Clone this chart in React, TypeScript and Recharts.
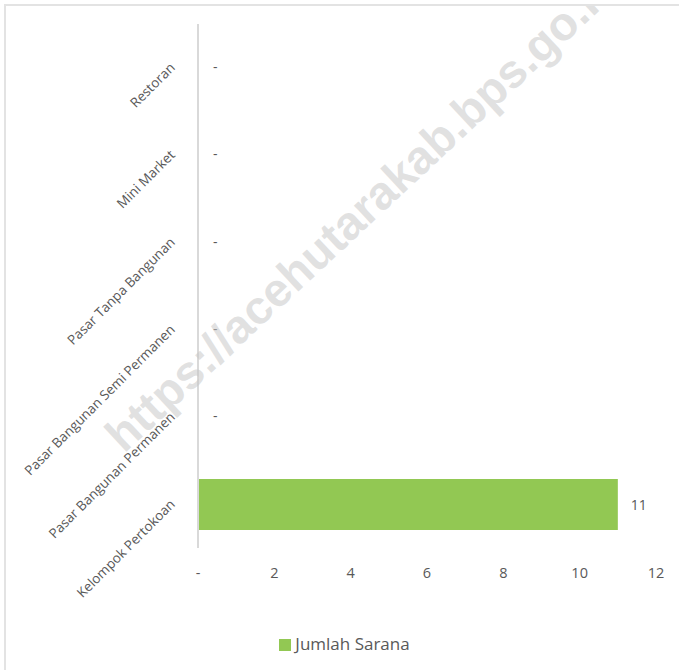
import { Bar, BarChart, LabelList, Legend, XAxis, YAxis } from "recharts";

const categories = [
  "Restoran",
  "Mini Market",
  "Pasar Tanpa Bangunan",
  "Pasar Bangunan Semi Permanen",
  "Pasar Bangunan Permanen",
  "Kelompok Pertokoan",
];
const jumlahSarana = [0, 0, 0, 0, 0, 11];
const xTicks = [0, 2, 4, 6, 8, 10, 12];

const data = categories.map((name, i) => ({ name, value: jumlahSarana[i] }));

const FONT = "'Open Sans', sans-serif";
const TEXT = "#595959";

const dash = (v: any) => (Number(v) === 0 ? "-" : String(v));

function CategoryTick({ x, y, payload }: any) {
  const ax = x - 17;
  const ay = y - 2;
  return (
    <text
      x={ax}
      y={ay}
      dy={4}
      textAnchor="end"
      fill={TEXT}
      fontSize={13.5}
      fontFamily={FONT}
      transform={`rotate(-45, ${ax}, ${ay})`}
    >
      {payload.value}
    </text>
  );
}

function ValueLabel({ x, y, width, height, value }: any) {
  const zero = Number(value) === 0;
  return (
    <text
      x={Number(x) + Number(width) + (zero ? 15 : 13)}
      y={Number(y) + Number(height) / 2}
      dy={zero ? 4 : 5}
      textAnchor="start"
      fill={TEXT}
      fontSize={14}
      fontFamily={FONT}
    >
      {dash(value)}
    </text>
  );
}

export default function App() {
  return (
    <div style={{ position: "absolute", left: 0, top: 0, width: 679, height: 670, overflow: "hidden", background: "#fff" }}>
      <div
        style={{
          position: "absolute",
          left: 4,
          top: 4,
          width: 720,
          height: 720,
          border: "2px solid #e3e3e3",
        }}
      />
      <BarChart
        width={679}
        height={670}
        data={data}
        layout="vertical"
        margin={{ top: 24, right: 23, left: 0, bottom: 15 }}
        barCategoryGap="21%"
        style={{ position: "absolute", left: 0, top: 0, fontFamily: FONT }}
      >
        <XAxis
          type="number"
          domain={[0, 12]}
          ticks={xTicks}
          tickFormatter={dash}
          axisLine={false}
          tickLine={false}
          tickMargin={14}
          height={84}
          tick={{ fill: TEXT, fontSize: 14.5, fontFamily: FONT }}
        />
        <YAxis
          type="category"
          dataKey="name"
          width={198}
          axisLine={{ stroke: "#d9d9d9", strokeWidth: 2 }}
          tickLine={false}
          tick={<CategoryTick />}
          interval={0}
        />
        <Legend
          verticalAlign="bottom"
          iconType="square"
          iconSize={12}
          wrapperStyle={{ left: 20, width: 659, fontSize: 17, fontFamily: FONT, color: TEXT }}
          formatter={(v: any) => <span style={{ color: TEXT }}>{v}</span>}
        />
        <Bar
          dataKey="value"
          name="Jumlah Sarana"
          fill="#92c853"
          minPointSize={0.01}
          isAnimationActive={false}
        >
          <LabelList dataKey="value" content={<ValueLabel />} />
        </Bar>
      </BarChart>
      {/* watermark, clipped to the frame */}
      <div style={{ position: "absolute", left: 6, top: 6, width: 673, height: 664, overflow: "hidden", pointerEvents: "none" }}>
        <svg width={673} height={664} style={{ position: "absolute", left: 0, top: 0 }}>
          <text
            x={118}
            y={448}
            transform="rotate(-43, 118, 448)"
            fontFamily="'Liberation Sans', Arial, sans-serif"
            fontWeight={700}
            fontSize={47}
            fill="#c8c8c8"
            fillOpacity={0.55}
          >
            https://acehutarakab.bps.go.id
          </text>
        </svg>
      </div>
    </div>
  );
}
